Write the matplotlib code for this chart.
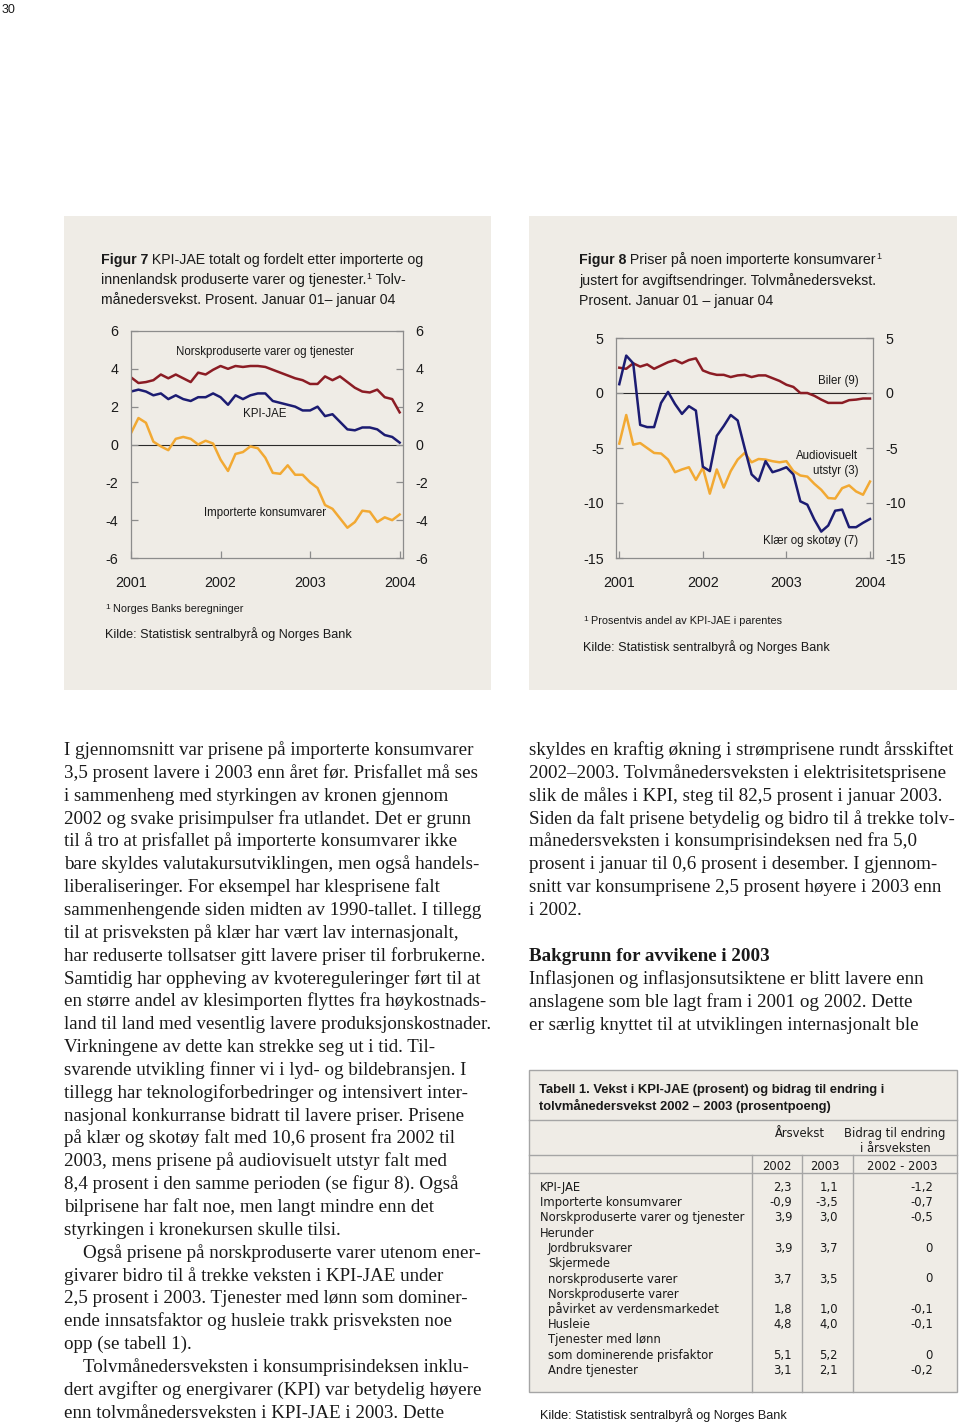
import matplotlib
matplotlib.use("Agg")
import matplotlib.pyplot as plt
from matplotlib import font_manager
from matplotlib.patches import Rectangle
from matplotlib.lines import Line2D

# ---- data -------------------------------------------------------------
months = list(range(37))  # Jan 2001 .. Jan 2004
year_ticks = [0, 12, 24, 36]
year_labels = ["2001", "2002", "2003", "2004"]

# Figur 7 (tolvmånedersvekst, prosent)
norskprod = [3.55, 3.25, 3.3, 3.4, 3.7, 3.5, 3.7, 3.5, 3.3, 3.8,
             3.7, 3.95, 4.15, 4.0, 4.15, 4.1, 4.15, 4.15, 4.1, 3.95,
             3.8, 3.65, 3.5, 3.4, 3.2, 3.2, 3.6, 3.4, 3.6, 3.3,
             3.0, 2.8, 2.75, 2.9, 2.5, 2.4, 1.7]
kpi_jae = [2.8, 2.9, 2.8, 2.6, 2.7, 2.4, 2.6, 2.4, 2.3, 2.5,
           2.5, 2.7, 2.5, 2.1, 2.6, 2.4, 2.6, 2.7, 2.7, 2.3,
           2.2, 2.1, 2.0, 1.8, 1.8, 2.0, 1.5, 1.6, 1.2, 0.8,
           0.75, 0.9, 0.9, 0.8, 0.5, 0.4, 0.1]
importerte = [0.6, 1.4, 1.15, 0.15, -0.1, -0.3, 0.3, 0.4, 0.3, 0.0,
              0.2, 0.05, -0.8, -1.4, -0.5, -0.4, -0.1, -0.2, -0.7, -1.5,
              -1.55, -1.1, -1.6, -1.6, -2.0, -2.3, -3.2, -3.4, -3.9, -4.4,
              -4.1, -3.5, -3.55, -4.1, -3.85, -4.0, -3.7]
fig7_yticks = [-6, -4, -2, 0, 2, 4, 6]

# Figur 8
biler = [2.3, 2.2, 2.7, 2.4, 2.6, 2.2, 2.5, 2.8, 3.0, 2.7,
         3.0, 3.15, 2.05, 1.8, 1.65, 1.65, 1.45, 1.6, 1.65, 1.45,
         1.6, 1.6, 1.35, 1.1, 0.75, 0.55, 0.0, 0.0, -0.25, -0.6,
         -0.9, -0.9, -0.9, -0.65, -0.6, -0.5, -0.5]
klaer = [0.8, 3.4, 2.7, -2.9, -3.1, -3.1, -0.9, 0.1, -1.0, -1.9,
         -1.2, -1.6, -6.7, -7.1, -3.9, -3.0, -2.0, -2.5, -5.0, -7.4,
         -8.0, -6.2, -7.2, -7.0, -6.75, -7.4, -9.85, -10.15, -11.5, -12.6,
         -12.05, -10.7, -10.6, -12.2, -12.2, -11.8, -11.45]
audiovisuelt = [-4.6, -2.0, -4.7, -4.55, -5.0, -5.45, -5.5, -6.05, -7.2, -6.95,
                -6.75, -7.9, -6.8, -9.15, -6.95, -8.6, -7.1, -6.05, -5.45, -6.3,
                -6.0, -6.05, -6.2, -6.3, -6.2, -7.1, -7.5, -7.6, -8.25, -8.8,
                -9.55, -9.6, -8.65, -8.4, -8.95, -9.25, -8.05]
fig8_yticks = [-15, -10, -5, 0, 5]

# Tabell 1
tab_labels = ["KPI-JAE", "Importerte konsumvarer", "Norskproduserte varer og tjenester",
              "Herunder", "Jordbruksvarer", "Skjermede", "norskproduserte varer",
              "Norskproduserte varer", "påvirket av verdensmarkedet", "Husleie",
              "Tjenester med lønn", "som dominerende prisfaktor", "Andre tjenester"]
tab_indent = [0, 0, 0, 0, 1, 1, 1, 1, 1, 1, 1, 1, 1]
tab_2002 = ["2,3", "-0,9", "3,9", "", "3,9", "", "3,7", "", "1,8", "4,8", "", "5,1", "3,1"]
tab_2003 = ["1,1", "-3,5", "3,0", "", "3,7", "", "3,5", "", "1,0", "4,0", "", "5,2", "2,1"]
tab_bidrag = ["-1,2", "-0,7", "-0,5", "", "0", "", "0", "", "-0,1", "-0,1", "", "0", "-0,2"]

left_text = [
    "I gjennomsnitt var prisene på importerte konsumvarer",
    "3,5 prosent lavere i 2003 enn året før. Prisfallet må ses",
    "i sammenheng med styrkingen av kronen gjennom",
    "2002 og svake prisimpulser fra utlandet. Det er grunn",
    "til å tro at prisfallet på importerte konsumvarer ikke",
    "bare skyldes valutakursutviklingen, men også handels-",
    "liberaliseringer. For eksempel har klesprisene falt",
    "sammenhengende siden midten av 1990-tallet. I tillegg",
    "til at prisveksten på klær har vært lav internasjonalt,",
    "har reduserte tollsatser gitt lavere priser til forbrukerne.",
    "Samtidig har oppheving av kvotereguleringer ført til at",
    "en større andel av klesimporten flyttes fra høykostnads-",
    "land til land med vesentlig lavere produksjonskostnader.",
    "Virkningene av dette kan strekke seg ut i tid. Til-",
    "svarende utvikling finner vi i lyd- og bildebransjen. I",
    "tillegg har teknologiforbedringer og intensivert inter-",
    "nasjonal konkurranse bidratt til lavere priser. Prisene",
    "på klær og skotøy falt med 10,6 prosent fra 2002 til",
    "2003, mens prisene på audiovisuelt utstyr falt med",
    "8,4 prosent i den samme perioden (se figur 8). Også",
    "bilprisene har falt noe, men langt mindre enn det",
    "styrkingen i kronekursen skulle tilsi.",
    "\u2003Også prisene på norskproduserte varer utenom ener-",
    "givarer bidro til å trekke veksten i KPI-JAE under",
    "2,5 prosent i 2003. Tjenester med lønn som dominer-",
    "ende innsatsfaktor og husleie trakk prisveksten noe",
    "opp (se tabell 1).",
    "\u2003Tolvmånedersveksten i konsumprisindeksen inklu-",
    "dert avgifter og energivarer (KPI) var betydelig høyere",
    "enn tolvmånedersveksten i KPI-JAE i 2003. Dette",
]
right_text_a = [
    "skyldes en kraftig økning i strømprisene rundt årsskiftet",
    "2002–2003. Tolvmånedersveksten i elektrisitetsprisene",
    "slik de måles i KPI, steg til 82,5 prosent i januar 2003.",
    "Siden da falt prisene betydelig og bidro til å trekke tolv-",
    "månedersveksten i konsumprisindeksen ned fra 5,0",
    "prosent i januar til 0,6 prosent i desember. I gjennom-",
    "snitt var konsumprisene 2,5 prosent høyere i 2003 enn",
    "i 2002.",
]
right_heading = "Bakgrunn for avvikene i 2003"
right_text_b = [
    "Inflasjonen og inflasjonsutsiktene er blitt lavere enn",
    "anslagene som ble lagt fram i 2001 og 2002. Dette",
    "er særlig knyttet til at utviklingen internasjonalt ble",
]

# ---- style ------------------------------------------------------------
_fonts = font_manager.fontManager.ttflist
has_cond = any(f.name == "DejaVu Sans" and "condensed" in str(f.stretch) for f in _fonts)
SANS = ["Liberation Sans", "DejaVu Sans"]
SERIF = "Liberation Serif"

plt.rcParams["font.family"] = SANS
plt.rcParams["axes.unicode_minus"] = False

BEIGE = "#efece6"
SPINE = "#8c8c8c"
RED = "#8b1c24"
NAVY = "#1c1c72"
ORANGE = "#f2a933"
TXT = "#1a1a1a"

W, H = 960, 1425
fig = plt.figure(figsize=(9.6, 14.25), dpi=100)
renderer = fig.canvas.get_renderer()


def fx(x):
    return x / W


def fy(y):
    return 1 - y / H


def put(x, y, s, **kw):
    kw.setdefault("color", TXT)
    return fig.text(fx(x), fy(y), s, **kw)


def rect(x0, y0, x1, y1, **kw):
    fig.patches.append(Rectangle((fx(x0), fy(y1)), (x1 - x0) / W, (y1 - y0) / H,
                                 transform=fig.transFigure, zorder=-5, **kw))


def line(x0, y0, x1, y1, **kw):
    fig.add_artist(Line2D([fx(x0), fx(x1)], [fy(y0), fy(y1)],
                          transform=fig.transFigure, **kw))


def run(x, y, parts, **common):
    # several pieces of text on one baseline (bold words, superscripts)
    for s, kw in parts:
        opts = dict(common)
        opts.update(kw)
        dy = opts.pop("dy", 0)
        t = put(x, y - dy, s, va="baseline", **opts)
        x += t.get_window_extent(renderer).width


def chart(box, ylim, yticks, xlim):
    x0, y0, x1, y1 = box
    ax = fig.add_axes([fx(x0), fy(y1), (x1 - x0) / W, (y1 - y0) / H])
    ax.set_facecolor("none")
    ax.set_xlim(*xlim)
    ax.set_ylim(*ylim)
    ax.set_yticks(yticks)
    ax.set_yticklabels([str(v) for v in yticks])
    ax.set_xticks(year_ticks)
    ax.set_xticklabels(year_labels)
    for sp in ax.spines.values():
        sp.set_color(SPINE)
        sp.set_linewidth(0.9)
    ax.tick_params(axis="y", direction="in", length=5, width=0.9, color=SPINE,
                   left=True, right=True, labelleft=True, labelright=True,
                   pad=9, labelsize=10.3, labelcolor=TXT)
    ax.tick_params(axis="x", direction="in", length=5, width=0.9, color=SPINE,
                   pad=13, labelsize=10.3, labelcolor=TXT)
    ax.axhline(0, color="#2a2a2a", lw=0.8, zorder=1)
    return ax


# ---- page -------------------------------------------------------------
put(2, 13, "30", fontsize=9, va="baseline")

cap = dict(fontsize=10.2)
sup = dict(fontsize=6.5, dy=5)

# Figur 7 panel
rect(64, 216, 491, 690, facecolor=BEIGE, edgecolor="none")
run(101, 264, [("Figur 7", dict(weight="bold")),
               (" KPI-JAE totalt og fordelt etter importerte og", {})], **cap)
run(101, 284, [("innenlandsk produserte varer og tjenester.", {}), ("1", sup),
               (" Tolv-", {})], **cap)
run(101, 304, [("månedersvekst. Prosent. Januar 01– januar 04", {})], **cap)

ax7 = chart((131, 331, 403, 558), (-6, 6), fig7_yticks, (0, 36.45))
ax7.plot(months, norskprod, color=RED, lw=1.8)
ax7.plot(months, kpi_jae, color=NAVY, lw=1.8)
ax7.plot(months, importerte, color=ORANGE, lw=1.8)
lab = dict(fontsize=8.3, color=TXT, ha="center", va="center")
ax7.text(17.9, 4.9, "Norskproduserte varer og tjenester", **lab)
ax7.text(17.9, 1.6, "KPI-JAE", **lab)
ax7.text(17.9, -3.6, "Importerte konsumvarer", **lab)

run(105, 612, [("1", dict(fontsize=6, dy=3)),
               (" Norges Banks beregninger", dict(fontsize=7.8))])
run(105, 638, [("Kilde: Statistisk sentralbyrå og Norges Bank", {})], fontsize=9.1)

# Figur 8 panel
rect(529, 216, 957, 690, facecolor=BEIGE, edgecolor="none")
run(579, 264, [("Figur 8", dict(weight="bold")),
               (" Priser på noen importerte konsumvarer", {}), ("1", sup)], **cap)
run(579, 285, [("justert for avgiftsendringer. Tolvmånedersvekst.", {})], **cap)
run(579, 305, [("Prosent. Januar 01 – januar 04", {})], **cap)

ax8 = chart((616, 338, 873, 558), (-15, 5), fig8_yticks, (-0.47, 36.43))
ax8.plot(months, biler, color=RED, lw=1.8)
ax8.plot(months, audiovisuelt, color=ORANGE, lw=1.8)
ax8.plot(months, klaer, color=NAVY, lw=1.8)
lab8 = dict(fontsize=8.3, color=TXT, ha="right", va="center")
ax8.text(34.3, 1.1, "Biler (9)", **lab8)
ax8.text(34.3, -6.4, "Audiovisuelt\nutstyr (3)", multialignment="right",
         linespacing=1.25, **lab8)
ax8.text(34.3, -13.45, "Klær og skotøy (7)", **lab8)

run(583, 624, [("1", dict(fontsize=6, dy=3)),
               (" Prosentvis andel av KPI-JAE i parentes", dict(fontsize=7.8))])
run(583, 651, [("Kilde: Statistisk sentralbyrå og Norges Bank", {})], fontsize=9.1)

# ---- body text ---------------------------------------------------------
body = dict(fontsize=13.7, family=SERIF, va="baseline")
LS = 22.85
for i, s in enumerate(left_text):
    put(64, 755 + i * LS, s, **body)
for i, s in enumerate(right_text_a):
    put(529, 755 + i * LS, s, **body)
put(529, 961, right_heading, weight="bold", **body)
for i, s in enumerate(right_text_b):
    put(529, 984 + i * LS, s, **body)

# ---- table -------------------------------------------------------------
rect(529, 1070, 957, 1392, facecolor=BEIGE, edgecolor="#a5a5a5", lw=1.0)
GRID = dict(color="#a5a5a5", lw=1.0)
line(529, 1120, 957, 1120, **GRID)
line(529, 1155, 957, 1155, **GRID)
line(529, 1173, 957, 1173, **GRID)
for xv in (752, 802, 853):
    line(xv, 1155, xv, 1392, **GRID)

ttl = dict(fontsize=9.4, weight="bold", va="baseline")
put(539, 1093, "Tabell 1. Vekst i KPI-JAE (prosent) og bidrag til endring i", **ttl)
put(539, 1110, "tolvmånedersvekst 2002 – 2003 (prosentpoeng)", **ttl)

if has_cond:
    tb = dict(family="DejaVu Sans", stretch="condensed", fontsize=9.25, va="baseline")
else:
    tb = dict(family="DejaVu Sans", fontsize=8.4, va="baseline")
put(800, 1137, "Årsvekst", ha="center", **tb)
put(895, 1137, "Bidrag til endring", ha="center", **tb)
put(895, 1152, "i årsveksten", ha="center", **tb)
put(777, 1170, "2002", ha="center", **tb)
put(825, 1170, "2003", ha="center", **tb)
put(902, 1170, "2002 - 2003", ha="center", **tb)

ROW0, ROWS = 1191, 15.25
for i, lbl in enumerate(tab_labels):
    yb = ROW0 + i * ROWS
    put(540 + 8 * tab_indent[i], yb, lbl, **tb)
    put(792, yb, tab_2002[i], ha="right", **tb)
    put(838, yb, tab_2003[i], ha="right", **tb)
    put(933, yb, tab_bidrag[i], ha="right", **tb)

put(540, 1419, "Kilde: Statistisk sentralbyrå og Norges Bank", fontsize=9.1, va="baseline")

fig.savefig("out.png", dpi=100, facecolor="white")
plt.close(fig)
